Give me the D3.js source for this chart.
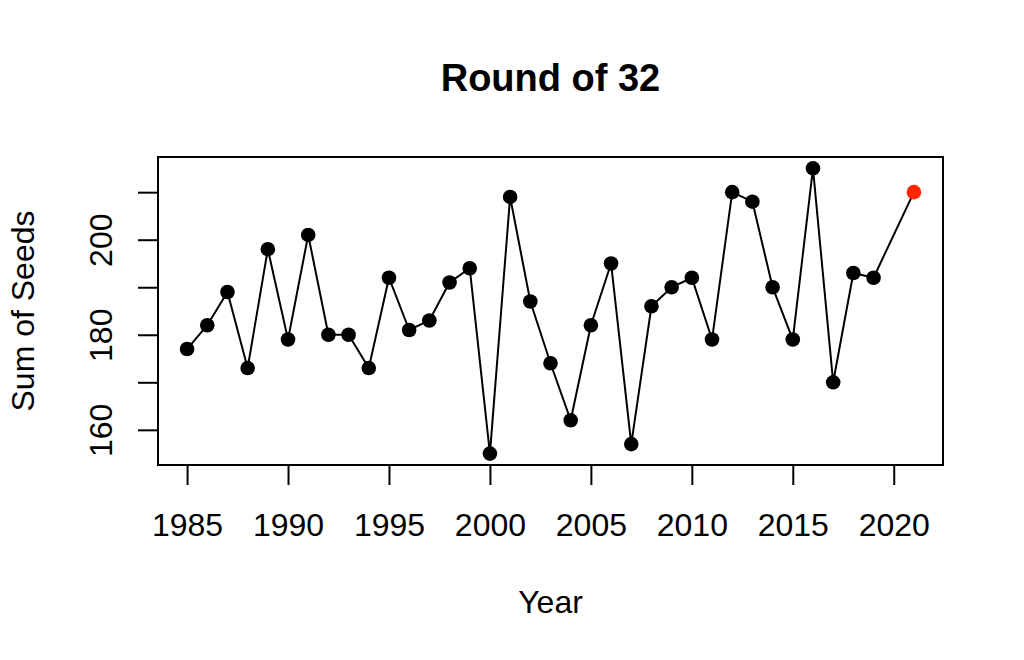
<!DOCTYPE html>
<html>
<head>
<meta charset="utf-8">
<script src="https://cdn.jsdelivr.net/npm/d3@7"></script>
<style>
  html, body { margin: 0; padding: 0; background: #fff; }
  text { font-family: "Liberation Sans", Arial, Helvetica, sans-serif; fill: #000; }
</style>
</head>
<body>
<svg id="chart" width="1024" height="660"></svg>
<script>
// Data (2020 has no tournament)
const years = [1985,1986,1987,1988,1989,1990,1991,1992,1993,1994,1995,1996,1997,1998,1999,
               2000,2001,2002,2003,2004,2005,2006,2007,2008,2009,2010,2011,2012,2013,2014,
               2015,2016,2017,2018,2019,2021];
const seedSums = [177,182,189,173,198,179,201,180,180,173,192,181,183,191,194,
                  155,209,187,174,162,182,195,157,186,190,192,179,210,208,190,
                  179,215,170,193,192,210];
const xTickValues = [1985,1990,1995,2000,2005,2010,2015,2020];
const yTickValues = [160,170,180,190,200,210];
const yTickLabels = ["160","","180","","200",""];
const titleText = "Round of 32";
const xLabel = "Year";
const yLabel = "Sum of Seeds";

const svg = d3.select("#chart");
const mLeft = 158, mRight = 943, mTop = 157, mBottom = 465;
const axisFont = "32px";

function padExtent(arr) {
  const [a, b] = d3.extent(arr);
  const p = (b - a) * 0.04;
  return [a - p, b + p];
}

const x = d3.scaleLinear().domain(padExtent(years)).range([mLeft, mRight]);
const y = d3.scaleLinear().domain(padExtent(seedSums)).range([mBottom, mTop]);

const data = years.map((yr, i) => ({ year: yr, value: seedSums[i], last: i === years.length - 1 }));

// Title
svg.append("text")
  .attr("x", (mLeft + mRight) / 2)
  .attr("y", 91)
  .attr("text-anchor", "middle")
  .style("font-size", "38px")
  .style("font-weight", "bold")
  .text(titleText);

// X axis
const xAxis = svg.append("g")
  .attr("transform", `translate(0,${mBottom})`)
  .call(d3.axisBottom(x).tickValues(xTickValues).tickSize(20).tickFormat(d3.format("d")));
xAxis.select(".domain").remove();
xAxis.selectAll(".tick line").attr("stroke", "#000").attr("stroke-width", 2);
xAxis.selectAll(".tick text")
  .attr("y", 71).attr("dy", null)
  .style("font-size", axisFont).attr("fill", "#000");

// Y axis
const yAxis = svg.append("g")
  .attr("transform", `translate(${mLeft},0)`)
  .call(d3.axisLeft(y).tickValues(yTickValues).tickSize(20)
        .tickFormat((d, i) => yTickLabels[i]));
yAxis.select(".domain").remove();
yAxis.selectAll(".tick line").attr("stroke", "#000").attr("stroke-width", 2);
yAxis.selectAll(".tick text")
  .attr("x", null).attr("dy", null)
  .attr("text-anchor", "middle")
  .attr("transform", "translate(-46,0) rotate(-90)")
  .style("font-size", axisFont).attr("fill", "#000");

// Axis titles
svg.append("text")
  .attr("x", (mLeft + mRight) / 2)
  .attr("y", 613)
  .attr("text-anchor", "middle")
  .style("font-size", axisFont)
  .text(xLabel);

svg.append("text")
  .attr("transform", `translate(34,${(mTop + mBottom) / 2}) rotate(-90)`)
  .attr("text-anchor", "middle")
  .style("font-size", axisFont)
  .text(yLabel);

// Line
const line = d3.line().x(d => x(d.year)).y(d => y(d.value));
svg.append("path")
  .datum(data)
  .attr("d", line)
  .attr("fill", "none")
  .attr("stroke", "#000")
  .attr("stroke-width", 2);

// Points
svg.append("g").selectAll("circle")
  .data(data)
  .join("circle")
  .attr("cx", d => x(d.year))
  .attr("cy", d => y(d.value))
  .attr("r", 7.3)
  .attr("fill", d => d.last ? "#ff2600" : "#000");

// Box
svg.append("rect")
  .attr("x", mLeft).attr("y", mTop)
  .attr("width", mRight - mLeft).attr("height", mBottom - mTop)
  .attr("fill", "none").attr("stroke", "#000").attr("stroke-width", 2);
</script>
</body>
</html>
